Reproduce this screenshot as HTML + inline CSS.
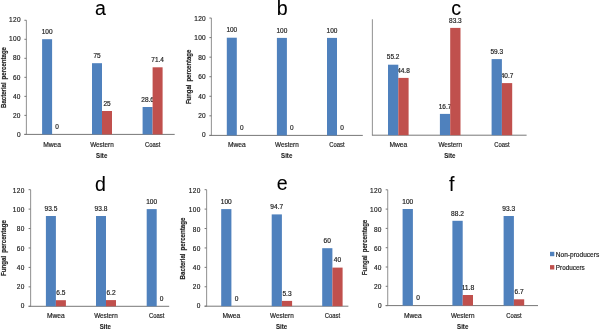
<!DOCTYPE html>
<html><head><meta charset="utf-8"><title>Figure</title>
<style>
html,body{margin:0;padding:0;background:#fff;}
body{width:600px;height:330px;overflow:hidden;}
svg{display:block;}
#w{width:600px;height:330px;will-change:transform;}
text{font-family:"Liberation Sans",sans-serif;fill:#222222;stroke:#222222;stroke-width:0.18px;}
.ax{stroke:#777777;stroke-width:1.0;fill:none;}
.ay{stroke:#9a9a9a;stroke-width:1.1;fill:none;}
.tl{font-size:6.5px;text-anchor:end;letter-spacing:0.3px;}
.vl{font-size:6.0px;text-anchor:middle;}
.cl{font-size:6.6px;text-anchor:middle;}
.st{font-size:6.6px;font-weight:bold;text-anchor:middle;stroke-width:0.1px;}
.yt{font-size:7.0px;font-weight:bold;text-anchor:middle;word-spacing:1.5px;}
.lg{font-size:6.5px;}
.big{font-size:19.6px;text-anchor:middle;fill:#000;stroke:#000;stroke-width:0.08px;}
</style></head>
<body><div id="w"><svg width="600" height="330" viewBox="0 0 600 330">
<rect width="600" height="330" fill="#fff"/>
<g id="pa">
<line x1="26.4" y1="20.28" x2="26.4" y2="134.4" class="ay"/>
<line x1="24.4" y1="134.4" x2="174.7" y2="134.4" class="ax"/>
<line x1="24.4" y1="134.4" x2="26.4" y2="134.4" class="ax"/>
<text x="20.8" y="136.75" class="tl">0</text>
<line x1="24.4" y1="115.38" x2="26.4" y2="115.38" class="ax"/>
<text x="20.8" y="117.67" class="tl">20</text>
<line x1="24.4" y1="96.36" x2="26.4" y2="96.36" class="ax"/>
<text x="20.8" y="98.58" class="tl">40</text>
<line x1="24.4" y1="77.34" x2="26.4" y2="77.34" class="ax"/>
<text x="20.8" y="79.5" class="tl">60</text>
<line x1="24.4" y1="58.32" x2="26.4" y2="58.32" class="ax"/>
<text x="20.8" y="60.42" class="tl">80</text>
<line x1="24.4" y1="39.3" x2="26.4" y2="39.3" class="ax"/>
<text x="20.8" y="41.33" class="tl">100</text>
<line x1="24.4" y1="20.28" x2="26.4" y2="20.28" class="ax"/>
<text x="20.8" y="22.25" class="tl">120</text>
<text x="47.1" y="33.9" class="vl" style="font-size:6.5px" textLength="10.84" lengthAdjust="spacingAndGlyphs">100</text>
<text x="57.1" y="129.1" class="vl" style="font-size:6.5px" textLength="3.61" lengthAdjust="spacingAndGlyphs">0</text>
<text x="52.1" y="147.1" class="cl" textLength="17.8" lengthAdjust="spacingAndGlyphs">Mwea</text>
<text x="97" y="57.9" class="vl" style="font-size:6.5px" textLength="7.23" lengthAdjust="spacingAndGlyphs">75</text>
<text x="107" y="105.7" class="vl" style="font-size:6.5px" textLength="7.23" lengthAdjust="spacingAndGlyphs">25</text>
<text x="102" y="147.1" class="cl" textLength="23.6" lengthAdjust="spacingAndGlyphs">Western</text>
<text x="147.6" y="101.7" class="vl" style="font-size:6.5px" textLength="12.65" lengthAdjust="spacingAndGlyphs">28.6</text>
<text x="157.6" y="62" class="vl" style="font-size:6.5px" textLength="12.65" lengthAdjust="spacingAndGlyphs">71.4</text>
<text x="152.6" y="147.1" class="cl" textLength="15.4" lengthAdjust="spacingAndGlyphs">Coast</text>
<rect x="42.1" y="39.2" width="10" height="95.2" fill="#4f81bd"/>
<rect x="92" y="63.2" width="10" height="71.2" fill="#4f81bd"/>
<rect x="102" y="111" width="10" height="23.4" fill="#c0504d"/>
<rect x="142.6" y="107" width="10" height="27.4" fill="#4f81bd"/>
<rect x="152.6" y="67.3" width="10" height="67.1" fill="#c0504d"/>
<text x="101.7" y="158.1" class="st" textLength="11.2" lengthAdjust="spacingAndGlyphs">Site</text>
<text transform="translate(5.6,77.5) rotate(-90)" x="0" y="0" class="yt" textLength="61" lengthAdjust="spacingAndGlyphs">Bacterial percentage</text>
<text x="100.4" y="14.9" class="big">a</text>
</g>
<g id="pb">
<line x1="211.4" y1="18.04" x2="211.4" y2="135.4" class="ay"/>
<line x1="209.4" y1="135.4" x2="362.8" y2="135.4" class="ax"/>
<line x1="209.4" y1="135.4" x2="211.4" y2="135.4" class="ax"/>
<text x="206" y="137.35" class="tl">0</text>
<line x1="209.4" y1="115.84" x2="211.4" y2="115.84" class="ax"/>
<text x="206" y="117.95" class="tl">20</text>
<line x1="209.4" y1="96.28" x2="211.4" y2="96.28" class="ax"/>
<text x="206" y="98.55" class="tl">40</text>
<line x1="209.4" y1="76.72" x2="211.4" y2="76.72" class="ax"/>
<text x="206" y="79.15" class="tl">60</text>
<line x1="209.4" y1="57.16" x2="211.4" y2="57.16" class="ax"/>
<text x="206" y="59.75" class="tl">80</text>
<line x1="209.4" y1="37.6" x2="211.4" y2="37.6" class="ax"/>
<text x="206" y="40.35" class="tl">100</text>
<line x1="209.4" y1="18.04" x2="211.4" y2="18.04" class="ax"/>
<text x="206" y="20.95" class="tl">120</text>
<text x="231.8" y="32.4" class="vl" style="font-size:6.5px" textLength="10.84" lengthAdjust="spacingAndGlyphs">100</text>
<text x="241.8" y="130.1" class="vl" style="font-size:6.5px" textLength="3.61" lengthAdjust="spacingAndGlyphs">0</text>
<text x="236.8" y="147.4" class="cl" textLength="17.8" lengthAdjust="spacingAndGlyphs">Mwea</text>
<text x="281.9" y="32.6" class="vl" style="font-size:6.5px" textLength="10.84" lengthAdjust="spacingAndGlyphs">100</text>
<text x="291.9" y="130.1" class="vl" style="font-size:6.5px" textLength="3.61" lengthAdjust="spacingAndGlyphs">0</text>
<text x="286.9" y="147.4" class="cl" textLength="23.6" lengthAdjust="spacingAndGlyphs">Western</text>
<text x="332" y="32.6" class="vl" style="font-size:6.5px" textLength="10.84" lengthAdjust="spacingAndGlyphs">100</text>
<text x="342" y="130.1" class="vl" style="font-size:6.5px" textLength="3.61" lengthAdjust="spacingAndGlyphs">0</text>
<text x="337" y="147.4" class="cl" textLength="15.4" lengthAdjust="spacingAndGlyphs">Coast</text>
<rect x="226.8" y="37.7" width="10" height="97.7" fill="#4f81bd"/>
<rect x="276.9" y="37.9" width="10" height="97.5" fill="#4f81bd"/>
<rect x="327" y="37.9" width="10" height="97.5" fill="#4f81bd"/>
<text x="286.7" y="158.1" class="st" textLength="11.2" lengthAdjust="spacingAndGlyphs">Site</text>
<text transform="translate(191,76.9) rotate(-90)" x="0" y="0" class="yt" textLength="54.4" lengthAdjust="spacingAndGlyphs">Fungal percentage</text>
<text x="282.2" y="14.5" class="big">b</text>
</g>
<g id="pc">
<line x1="372.4" y1="19.2" x2="372.4" y2="135.2" class="ay"/>
<line x1="371.95" y1="135.2" x2="526.6" y2="135.2" class="ax"/>
<text x="393.15" y="59.4" class="vl" style="font-size:6.5px" textLength="12.65" lengthAdjust="spacingAndGlyphs">55.2</text>
<text x="403.45" y="72.6" class="vl" style="font-size:6.5px" textLength="12.65" lengthAdjust="spacingAndGlyphs">44.8</text>
<text x="398.3" y="147.4" class="cl" textLength="17.8" lengthAdjust="spacingAndGlyphs">Mwea</text>
<text x="445.05" y="108.6" class="vl" style="font-size:6.5px" textLength="12.65" lengthAdjust="spacingAndGlyphs">16.7</text>
<text x="455.35" y="22.6" class="vl" style="font-size:6.5px" textLength="12.65" lengthAdjust="spacingAndGlyphs">83.3</text>
<text x="450.2" y="147.4" class="cl" textLength="23.6" lengthAdjust="spacingAndGlyphs">Western</text>
<text x="496.75" y="53.8" class="vl" style="font-size:6.5px" textLength="12.65" lengthAdjust="spacingAndGlyphs">59.3</text>
<text x="507.05" y="77.8" class="vl" style="font-size:6.5px" textLength="12.65" lengthAdjust="spacingAndGlyphs">40.7</text>
<text x="501.9" y="147.4" class="cl" textLength="15.4" lengthAdjust="spacingAndGlyphs">Coast</text>
<rect x="388" y="64.7" width="10.3" height="70.5" fill="#4f81bd"/>
<rect x="398.3" y="77.9" width="10.3" height="57.3" fill="#c0504d"/>
<rect x="439.9" y="113.9" width="10.3" height="21.3" fill="#4f81bd"/>
<rect x="450.2" y="27.9" width="10.3" height="107.3" fill="#c0504d"/>
<rect x="491.6" y="59.1" width="10.3" height="76.1" fill="#4f81bd"/>
<rect x="501.9" y="83.1" width="10.3" height="52.1" fill="#c0504d"/>
<text x="449.8" y="158.1" class="st" textLength="11.2" lengthAdjust="spacingAndGlyphs">Site</text>
<text x="456.2" y="14.9" class="big">c</text>
</g>
<g id="pd">
<line x1="30.6" y1="189.66" x2="30.6" y2="306.3" class="ay"/>
<line x1="28.6" y1="306.3" x2="169.2" y2="306.3" class="ax"/>
<line x1="28.6" y1="306.3" x2="30.6" y2="306.3" class="ax"/>
<text x="24.6" y="308.35" class="tl">0</text>
<line x1="28.6" y1="286.86" x2="30.6" y2="286.86" class="ax"/>
<text x="24.6" y="289.12" class="tl">20</text>
<line x1="28.6" y1="267.42" x2="30.6" y2="267.42" class="ax"/>
<text x="24.6" y="269.88" class="tl">40</text>
<line x1="28.6" y1="247.98" x2="30.6" y2="247.98" class="ax"/>
<text x="24.6" y="250.65" class="tl">60</text>
<line x1="28.6" y1="228.54" x2="30.6" y2="228.54" class="ax"/>
<text x="24.6" y="231.42" class="tl">80</text>
<line x1="28.6" y1="209.1" x2="30.6" y2="209.1" class="ax"/>
<text x="24.6" y="212.18" class="tl">100</text>
<line x1="28.6" y1="189.66" x2="30.6" y2="189.66" class="ax"/>
<text x="24.6" y="192.95" class="tl">120</text>
<text x="50.9" y="210.7" class="vl" style="font-size:6.4px" textLength="12.83" lengthAdjust="spacingAndGlyphs">93.5</text>
<text x="60.9" y="294.9" class="vl" style="font-size:6.4px" textLength="9.16" lengthAdjust="spacingAndGlyphs">6.5</text>
<text x="55.9" y="318" class="cl" textLength="17.8" lengthAdjust="spacingAndGlyphs">Mwea</text>
<text x="101" y="210.7" class="vl" style="font-size:6.4px" textLength="12.83" lengthAdjust="spacingAndGlyphs">93.8</text>
<text x="111" y="294.8" class="vl" style="font-size:6.4px" textLength="9.16" lengthAdjust="spacingAndGlyphs">6.2</text>
<text x="106" y="318" class="cl" textLength="23.6" lengthAdjust="spacingAndGlyphs">Western</text>
<text x="151.7" y="203.8" class="vl" style="font-size:6.4px" textLength="11" lengthAdjust="spacingAndGlyphs">100</text>
<text x="161.7" y="301" class="vl" style="font-size:6.4px" textLength="3.67" lengthAdjust="spacingAndGlyphs">0</text>
<text x="156.7" y="318" class="cl" textLength="15.4" lengthAdjust="spacingAndGlyphs">Coast</text>
<rect x="45.9" y="216" width="10" height="90.3" fill="#4f81bd"/>
<rect x="55.9" y="300.2" width="10" height="6.1" fill="#c0504d"/>
<rect x="96" y="216" width="10" height="90.3" fill="#4f81bd"/>
<rect x="106" y="300.1" width="10" height="6.2" fill="#c0504d"/>
<rect x="146.7" y="209.1" width="10" height="97.2" fill="#4f81bd"/>
<text x="105.4" y="329" class="st" textLength="11.2" lengthAdjust="spacingAndGlyphs">Site</text>
<text transform="translate(5.7,248) rotate(-90)" x="0" y="0" class="yt" textLength="55.8" lengthAdjust="spacingAndGlyphs">Fungal percentage</text>
<text x="100.5" y="191.1" class="big">d</text>
</g>
<g id="pe">
<line x1="206.6" y1="189.68" x2="206.6" y2="306.2" class="ay"/>
<line x1="204.6" y1="306.2" x2="348.4" y2="306.2" class="ax"/>
<line x1="204.6" y1="306.2" x2="206.6" y2="306.2" class="ax"/>
<text x="200.6" y="308.05" class="tl">0</text>
<line x1="204.6" y1="286.78" x2="206.6" y2="286.78" class="ax"/>
<text x="200.6" y="288.92" class="tl">20</text>
<line x1="204.6" y1="267.36" x2="206.6" y2="267.36" class="ax"/>
<text x="200.6" y="269.78" class="tl">40</text>
<line x1="204.6" y1="247.94" x2="206.6" y2="247.94" class="ax"/>
<text x="200.6" y="250.65" class="tl">60</text>
<line x1="204.6" y1="228.52" x2="206.6" y2="228.52" class="ax"/>
<text x="200.6" y="231.52" class="tl">80</text>
<line x1="204.6" y1="209.1" x2="206.6" y2="209.1" class="ax"/>
<text x="200.6" y="212.38" class="tl">100</text>
<line x1="204.6" y1="189.68" x2="206.6" y2="189.68" class="ax"/>
<text x="200.6" y="193.25" class="tl">120</text>
<text x="226.3" y="203.8" class="vl" style="font-size:6.4px" textLength="11" lengthAdjust="spacingAndGlyphs">100</text>
<text x="236.5" y="300.9" class="vl" style="font-size:6.4px" textLength="3.67" lengthAdjust="spacingAndGlyphs">0</text>
<text x="231.4" y="318" class="cl" textLength="17.8" lengthAdjust="spacingAndGlyphs">Mwea</text>
<text x="276.8" y="209.1" class="vl" style="font-size:6.4px" textLength="12.83" lengthAdjust="spacingAndGlyphs">94.7</text>
<text x="287" y="295.6" class="vl" style="font-size:6.4px" textLength="9.16" lengthAdjust="spacingAndGlyphs">5.3</text>
<text x="281.9" y="318" class="cl" textLength="23.6" lengthAdjust="spacingAndGlyphs">Western</text>
<text x="327.3" y="242.9" class="vl" style="font-size:6.4px" textLength="7.33" lengthAdjust="spacingAndGlyphs">60</text>
<text x="337.5" y="262.3" class="vl" style="font-size:6.4px" textLength="7.33" lengthAdjust="spacingAndGlyphs">40</text>
<text x="332.4" y="318" class="cl" textLength="15.4" lengthAdjust="spacingAndGlyphs">Coast</text>
<rect x="221.2" y="209.1" width="10.2" height="97.1" fill="#4f81bd"/>
<rect x="271.7" y="214.4" width="10.2" height="91.8" fill="#4f81bd"/>
<rect x="281.9" y="300.9" width="10.2" height="5.3" fill="#c0504d"/>
<rect x="322.2" y="248.2" width="10.2" height="58" fill="#4f81bd"/>
<rect x="332.4" y="267.6" width="10.2" height="38.6" fill="#c0504d"/>
<text x="281.6" y="329" class="st" textLength="11.2" lengthAdjust="spacingAndGlyphs">Site</text>
<text transform="translate(185.4,248.5) rotate(-90)" x="0" y="0" class="yt" textLength="61.8" lengthAdjust="spacingAndGlyphs">Bacterial percentage</text>
<text x="282.1" y="190.3" class="big">e</text>
</g>
<g id="pf">
<line x1="387.7" y1="189.8" x2="387.7" y2="305.6" class="ay"/>
<line x1="385.7" y1="305.6" x2="538" y2="305.6" class="ax"/>
<line x1="385.7" y1="305.6" x2="387.7" y2="305.6" class="ax"/>
<text x="381.8" y="308.05" class="tl">0</text>
<line x1="385.7" y1="286.3" x2="387.7" y2="286.3" class="ax"/>
<text x="381.8" y="288.92" class="tl">20</text>
<line x1="385.7" y1="267" x2="387.7" y2="267" class="ax"/>
<text x="381.8" y="269.78" class="tl">40</text>
<line x1="385.7" y1="247.7" x2="387.7" y2="247.7" class="ax"/>
<text x="381.8" y="250.65" class="tl">60</text>
<line x1="385.7" y1="228.4" x2="387.7" y2="228.4" class="ax"/>
<text x="381.8" y="231.52" class="tl">80</text>
<line x1="385.7" y1="209.1" x2="387.7" y2="209.1" class="ax"/>
<text x="381.8" y="212.38" class="tl">100</text>
<line x1="385.7" y1="189.8" x2="387.7" y2="189.8" class="ax"/>
<text x="381.8" y="193.25" class="tl">120</text>
<text x="407.75" y="203.7" class="vl" style="font-size:6.4px" textLength="11" lengthAdjust="spacingAndGlyphs">100</text>
<text x="418.05" y="300.3" class="vl" style="font-size:6.4px" textLength="3.67" lengthAdjust="spacingAndGlyphs">0</text>
<text x="412.9" y="317.9" class="cl" textLength="17.8" lengthAdjust="spacingAndGlyphs">Mwea</text>
<text x="457.55" y="215.5" class="vl" style="font-size:6.4px" textLength="12.83" lengthAdjust="spacingAndGlyphs">88.2</text>
<text x="467.85" y="289.7" class="vl" style="font-size:6.4px" textLength="12.83" lengthAdjust="spacingAndGlyphs">11.8</text>
<text x="462.7" y="317.9" class="cl" textLength="23.6" lengthAdjust="spacingAndGlyphs">Western</text>
<text x="508.75" y="210.7" class="vl" style="font-size:6.4px" textLength="12.83" lengthAdjust="spacingAndGlyphs">93.3</text>
<text x="519.05" y="294" class="vl" style="font-size:6.4px" textLength="9.16" lengthAdjust="spacingAndGlyphs">6.7</text>
<text x="513.9" y="317.9" class="cl" textLength="15.4" lengthAdjust="spacingAndGlyphs">Coast</text>
<rect x="402.6" y="209" width="10.3" height="96.6" fill="#4f81bd"/>
<rect x="452.4" y="220.8" width="10.3" height="84.8" fill="#4f81bd"/>
<rect x="462.7" y="295" width="10.3" height="10.6" fill="#c0504d"/>
<rect x="503.6" y="216" width="10.3" height="89.6" fill="#4f81bd"/>
<rect x="513.9" y="299.3" width="10.3" height="6.3" fill="#c0504d"/>
<text x="462.7" y="328.8" class="st" textLength="11.2" lengthAdjust="spacingAndGlyphs">Site</text>
<text transform="translate(367,247.5) rotate(-90)" x="0" y="0" class="yt" textLength="55.5" lengthAdjust="spacingAndGlyphs">Fungal percentage</text>
<text x="451.8" y="190.6" class="big">f</text>
</g>
<rect x="550" y="251.8" width="4.3" height="4.4" fill="#4f81bd"/>
<rect x="550" y="265.1" width="4.3" height="4.4" fill="#c0504d"/>
<text x="555.8" y="256.6" class="lg" textLength="43.4" lengthAdjust="spacingAndGlyphs">Non-producers</text>
<text x="555.8" y="269.6" class="lg" textLength="29" lengthAdjust="spacingAndGlyphs">Producers</text>
</svg></div></body></html>
